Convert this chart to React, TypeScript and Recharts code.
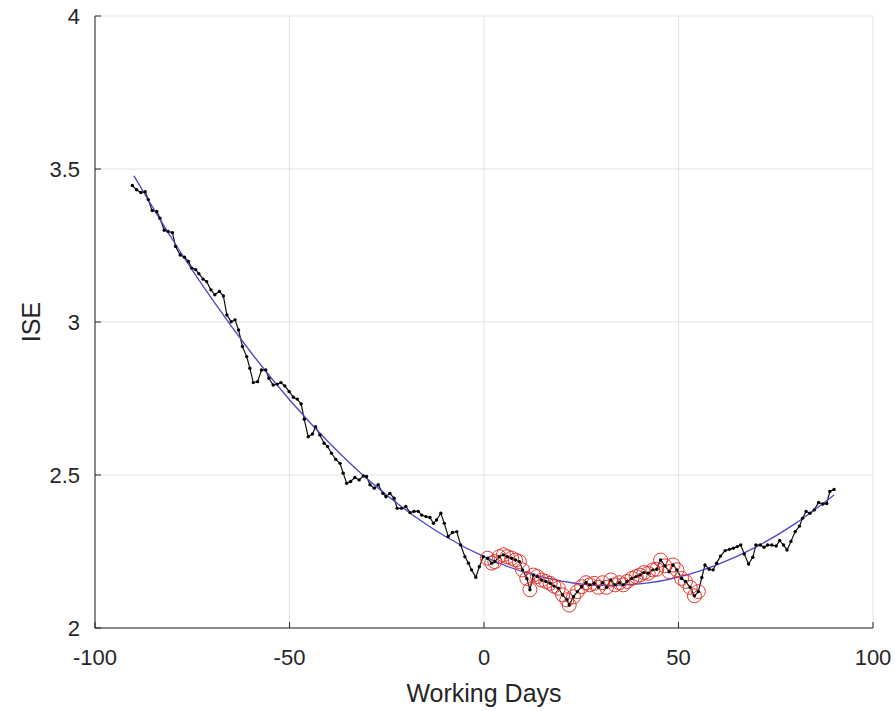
import { ComposedChart, Line, Scatter, XAxis, YAxis, CartesianGrid } from "recharts";

const DAYS = [
  -90.4, -89.3, -88.2, -87.1, -86.3, -85.3, -84.1, -83.3, -82.2, -81.2,
  -80.1, -79.3, -78.1, -77.0, -76.0, -75.1, -74.1, -73.3, -72.2, -71.3,
  -70.2, -69.2, -68.0, -67.0, -66.1, -65.0, -64.0, -63.1, -62.1, -61.0,
  -60.2, -59.3, -58.2, -57.2, -56.1, -55.3, -54.2, -53.1, -52.2, -51.2,
  -50.1, -49.0, -48.0, -47.0, -46.2, -45.2, -44.1, -43.3, -42.2, -41.1,
  -40.2, -39.2, -38.1, -37.0, -36.2, -35.3, -34.3, -33.2, -32.1, -31.0,
  -30.2, -29.3, -28.2, -27.2, -26.0, -25.2, -24.2, -23.1, -22.3, -21.2,
  -20.1, -19.0, -18.0, -16.9, -16.0, -14.9, -13.9, -13.0, -12.2, -11.1,
  -10.2, -9.2, -8.1, -7.0, -6.0, -4.9, -4.0, -3.2, -2.1, -1.2,
  -0.2, 0.9, 2.0, 2.8, 3.9, 5.0, 6.0, 7.1, 8.1, 9.1,
  9.9, 11.0, 11.8, 12.7, 13.7, 14.8, 15.9, 17.0, 18.0, 19.1,
  20.2, 21.3, 21.9, 23.0, 24.0, 25.1, 26.2, 27.2, 28.3, 29.4,
  30.5, 31.5, 32.6, 33.7, 34.8, 35.8, 36.8, 38.0, 39.1, 40.1,
  41.1, 42.2, 43.4, 44.4, 45.4, 46.5, 47.6, 48.6, 49.6, 50.8,
  51.8, 53.0, 54.1, 55.1, 56.0, 56.8, 57.9, 58.9, 59.8, 60.8,
  62.0, 63.1, 64.1, 65.1, 66.0, 66.9, 68.0, 69.1, 69.9, 71.0,
  72.0, 72.9, 74.0, 75.1, 76.0, 77.0, 77.9, 78.9, 80.0, 81.1,
  81.9, 82.8, 83.8, 84.9, 86.0, 87.1, 88.1, 88.9, 90.0,
];

const ISE = [
  3.446, 3.432, 3.423, 3.426, 3.400, 3.364, 3.361, 3.339, 3.300, 3.296,
  3.292, 3.247, 3.219, 3.212, 3.198, 3.176, 3.171, 3.158, 3.140, 3.132,
  3.105, 3.089, 3.100, 3.085, 3.023, 3.001, 3.007, 2.974, 2.920, 2.887,
  2.849, 2.802, 2.805, 2.843, 2.843, 2.816, 2.794, 2.797, 2.802, 2.791,
  2.773, 2.754, 2.748, 2.732, 2.682, 2.625, 2.634, 2.658, 2.631, 2.604,
  2.593, 2.571, 2.551, 2.538, 2.506, 2.473, 2.479, 2.492, 2.484, 2.497,
  2.495, 2.468, 2.457, 2.468, 2.440, 2.429, 2.440, 2.424, 2.391, 2.391,
  2.397, 2.377, 2.381, 2.381, 2.369, 2.364, 2.361, 2.342, 2.353, 2.375,
  2.342, 2.299, 2.312, 2.315, 2.271, 2.233, 2.212, 2.190, 2.166, 2.200,
  2.233, 2.228, 2.212, 2.217, 2.233, 2.239, 2.233, 2.228, 2.222, 2.217,
  2.190, 2.162, 2.125, 2.173, 2.168, 2.157, 2.152, 2.146, 2.137, 2.130,
  2.108, 2.092, 2.075, 2.102, 2.119, 2.135, 2.148, 2.141, 2.146, 2.133,
  2.148, 2.133, 2.157, 2.141, 2.148, 2.141, 2.152, 2.162, 2.168, 2.173,
  2.181, 2.179, 2.190, 2.192, 2.222, 2.203, 2.184, 2.206, 2.190, 2.162,
  2.152, 2.133, 2.105, 2.119, 2.165, 2.206, 2.192, 2.190, 2.212, 2.235,
  2.253, 2.257, 2.261, 2.266, 2.271, 2.242, 2.209, 2.231, 2.271, 2.271,
  2.264, 2.271, 2.271, 2.268, 2.286, 2.271, 2.255, 2.283, 2.315, 2.333,
  2.359, 2.381, 2.375, 2.386, 2.410, 2.405, 2.407, 2.446, 2.453,
];

// fitted trend (blue curve), read at every 10 days
const FIT_DAYS = [-90, -80, -70, -60, -50, -40, -30, -20, -10, 0, 10, 20, 30, 40, 50, 60, 70, 80, 90];
const FIT_ISE = [
  3.478, 3.268, 3.076, 2.902, 2.746, 2.608, 2.487, 2.385, 2.300, 2.233,
  2.184, 2.153, 2.139, 2.144, 2.166, 2.207, 2.265, 2.341, 2.435,
];

// days marked with red circles
const FLAG_FROM = 0;
const FLAG_TO = 55.5;

const X_TICKS = [-100, -50, 0, 50, 100];
const Y_TICKS = [2, 2.5, 3, 3.5, 4];

const measured = DAYS.map((x, i) => ({ x, y: ISE[i] }));
const flagged = measured.filter(p => p.x >= FLAG_FROM && p.x <= FLAG_TO);
const fit = FIT_DAYS.map((x, i) => ({ x, y: FIT_ISE[i] }));

const AXIS = "#262626";
const FONT = "'Liberation Sans', Arial, Helvetica, sans-serif";
const TICK_LEN = 6;
const X_GAP = 21; // label gap below the axis
const Y_GAP = 15; // label gap left of the axis

// octave-style ticks: short marks pointing into the plot box
function BottomTick({ x, y, payload }: any) {
  return (
    <g>
      <line x1={x} x2={x} y1={y - X_GAP} y2={y - X_GAP - TICK_LEN} stroke={AXIS} />
      <text x={x} y={y} dy="0.71em" textAnchor="middle" fontSize={22} fill={AXIS} fontFamily={FONT}>
        {payload.value}
      </text>
    </g>
  );
}

function LeftTick({ x, y, payload }: any) {
  return (
    <g>
      <line x1={x + Y_GAP} x2={x + Y_GAP + TICK_LEN} y1={y} y2={y} stroke={AXIS} />
      <text x={x} y={y} dy="0.355em" textAnchor="end" fontSize={22} fill={AXIS} fontFamily={FONT}>
        {payload.value}
      </text>
    </g>
  );
}

function TopTick({ x, y }: any) {
  return <line x1={x} x2={x} y1={y} y2={y + TICK_LEN} stroke={AXIS} />;
}

function RightTick({ x, y }: any) {
  return <line x1={x} x2={x - TICK_LEN} y1={y} y2={y} stroke={AXIS} />;
}

export default function App() {
  return (
    <div style={{ position: "absolute", left: 0, top: 0, width: 895, height: 711, background: "#fff" }}>
      <ComposedChart width={895} height={711} margin={{ top: 16, right: 22, left: 0, bottom: 0 }}>
        <CartesianGrid stroke="#e3e3e3" strokeWidth={1} />
        <XAxis
          type="number" dataKey="x" domain={[-100, 100]} ticks={X_TICKS} allowDataOverflow interval={0}
          height={83} tick={<BottomTick />} tickSize={0} tickMargin={X_GAP} tickLine={false}
          axisLine={{ stroke: AXIS }}
          label={{ value: "Working Days", position: "insideBottom", offset: 9,
            style: { fontSize: 25, fill: AXIS, fontFamily: FONT } }}
        />
        <XAxis xAxisId="top" orientation="top" type="number" domain={[-100, 100]} ticks={X_TICKS}
          interval={0} height={0} tickSize={0} tickMargin={0} tickLine={false}
          tick={<TopTick />} axisLine={{ stroke: AXIS }} />
        <YAxis
          type="number" dataKey="y" domain={[2, 4]} ticks={Y_TICKS} allowDataOverflow interval={0}
          width={95} tick={<LeftTick />} tickSize={0} tickMargin={Y_GAP} tickLine={false}
          axisLine={{ stroke: AXIS }}
          label={{ value: "ISE", angle: -90, position: "insideLeft", offset: 31,
            style: { fontSize: 25, fill: AXIS, fontFamily: FONT, textAnchor: "middle" } }}
        />
        <YAxis yAxisId="right" orientation="right" type="number" domain={[2, 4]} ticks={Y_TICKS}
          interval={0} width={0} tickSize={0} tickMargin={0} tickLine={false}
          tick={<RightTick />} axisLine={{ stroke: AXIS }} />

        <Scatter
          data={flagged} dataKey="y" isAnimationActive={false}
          shape={(p: any) => (
            <circle cx={p.cx} cy={p.cy} r={7} fill="none" stroke="#e2382f" strokeWidth={1} />
          )}
        />
        <Line
          data={measured} dataKey="y" type="linear" stroke="#111" strokeWidth={1.2}
          dot={{ r: 1.7, fill: "#000", stroke: "#000", strokeWidth: 0 }}
          activeDot={false} isAnimationActive={false}
        />
        <Line
          data={fit} dataKey="y" type="monotone" stroke="#4a46c8" strokeWidth={1.3}
          dot={false} activeDot={false} isAnimationActive={false}
        />
      </ComposedChart>
    </div>
  );
}
